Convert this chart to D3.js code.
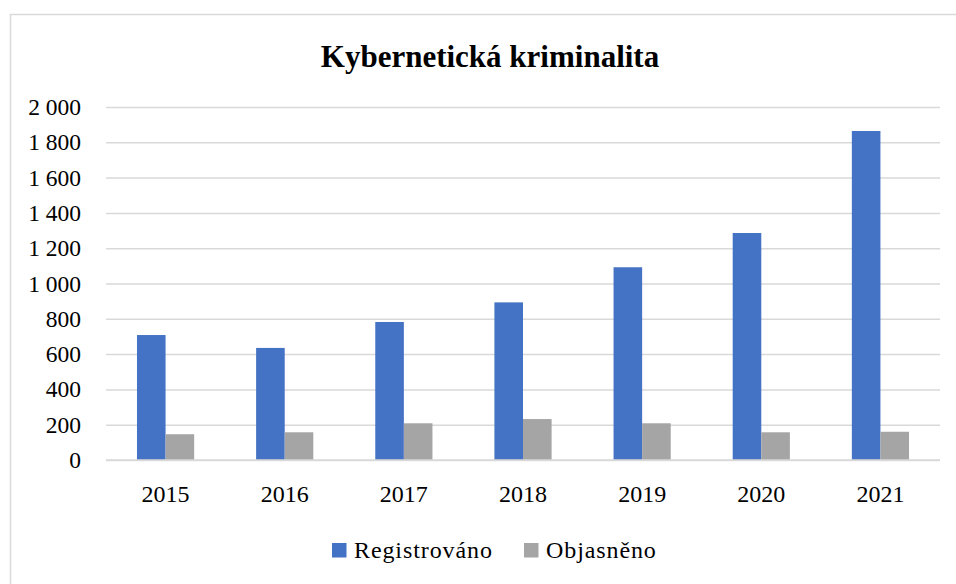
<!DOCTYPE html>
<html>
<head>
<meta charset="utf-8">
<script src="https://cdn.jsdelivr.net/npm/d3@7"></script>
<style>
    html, body { margin: 0; padding: 0; background: #fff; }
    svg { display: block; font-family: 'Liberation Serif', serif; }
</style>
</head>
<body>
<script>

let title = 'Kybernetická kriminalita',
    years = ['2015', '2016', '2017', '2018', '2019', '2020', '2021'],
    series_names = ['Registrováno', 'Objasněno'],
    registrovano = [708, 635, 782, 893, 1092, 1286, 1864],
    objasneno = [146, 157, 208, 232, 208, 157, 160],
    y_ticks = [0, 200, 400, 600, 800, 1000, 1200, 1400, 1600, 1800, 2000];

let colors = ['#4472C4', '#A5A5A5'];

draw_chart(d3.select('body'));


function draw_chart (body) {

    let width = 956,
        height = 584;

    let svg = body
        .append('svg')
        .attr('width', width)
        .attr('height', height);

    // Chart frame (runs off the right and bottom edges)
    svg.append('rect')
        .attr('x', 10.5)
        .attr('y', 14.5)
        .attr('width', 1000)
        .attr('height', 1000)
        .attr('fill', 'none')
        .attr('stroke', '#d9d9d9')
        .attr('stroke-width', 1.5);

    let plot = { left: 106, right: 940, top: 107, bottom: 460 };

    let x = d3.scaleBand()
        .domain(years)
        .range([plot.left, plot.right])
        .paddingInner(0.52)
        .paddingOuter(0.26);

    let x1 = d3.scaleBand()
        .domain(series_names)
        .range([0, x.bandwidth()]);

    let y = d3.scaleLinear()
        .domain([0, 2000])
        .range([plot.bottom, plot.top]);

    let color = d3.scaleOrdinal()
        .domain(series_names)
        .range(colors);

    // Title
    svg.append('text')
        .attr('x', 490)
        .attr('y', 67)
        .attr('text-anchor', 'middle')
        .attr('font-size', 31)
        .attr('font-weight', 'bold')
        .attr('fill', '#000')
        .text(title);

    // Gridlines and y labels
    let y_axis = d3.axisLeft(y)
        .tickValues(y_ticks)
        .tickSize(-(plot.right - plot.left))
        .tickPadding(25)
        .tickFormat(d => d3.format(',')(d).replace(/,/g, ' '));

    let gy = svg.append('g')
        .attr('transform', 'translate(' + plot.left + ',0)')
        .call(y_axis);

    gy.select('.domain').remove();

    gy.selectAll('.tick line')
        .attr('stroke', '#d9d9d9')
        .attr('stroke-width', 1.5);

    gy.selectAll('.tick text')
        .attr('font-family', 'Liberation Serif, serif')
        .attr('font-size', 23.5)
        .attr('fill', '#000');

    // Bars
    let rows = years.map((yr, i) => ({
        year: yr,
        values: [
            { name: series_names[0], value: registrovano[i] },
            { name: series_names[1], value: objasneno[i] }
        ]
    }));

    svg.append('g')
        .selectAll('g')
        .data(rows)
        .join('g')
        .attr('transform', d => 'translate(' + x(d.year) + ',0)')
        .selectAll('rect')
        .data(d => d.values)
        .join('rect')
        .attr('x', d => x1(d.name))
        .attr('y', d => y(d.value))
        .attr('width', x1.bandwidth())
        .attr('height', d => y(0) - y(d.value))
        .attr('fill', d => color(d.name));

    // Baseline on top of bars
    svg.append('line')
        .attr('x1', plot.left)
        .attr('x2', plot.right)
        .attr('y1', y(0))
        .attr('y2', y(0))
        .attr('stroke', '#d9d9d9')
        .attr('stroke-width', 1.5);

    // X labels
    let x_axis = d3.axisBottom(x)
        .tickSize(0)
        .tickPadding(25);

    let gx = svg.append('g')
        .attr('transform', 'translate(0,' + plot.bottom + ')')
        .call(x_axis);

    gx.select('.domain').remove();

    gx.selectAll('.tick text')
        .attr('font-family', 'Liberation Serif, serif')
        .attr('font-size', 24)
        .attr('fill', '#000');

    // Legend
    let legend_x = [332, 524];

    let legend = svg.append('g')
        .selectAll('g')
        .data(series_names)
        .join('g')
        .attr('transform', (d, i) => 'translate(' + legend_x[i] + ',543)');

    legend.append('rect')
        .attr('width', 14.5)
        .attr('height', 14.5)
        .attr('fill', d => color(d));

    legend.append('text')
        .attr('x', 22)
        .attr('y', 15)
        .attr('font-size', 24)
        .attr('letter-spacing', 0.9)
        .attr('fill', '#000')
        .text(d => d);

}

</script>
</body>
</html>
